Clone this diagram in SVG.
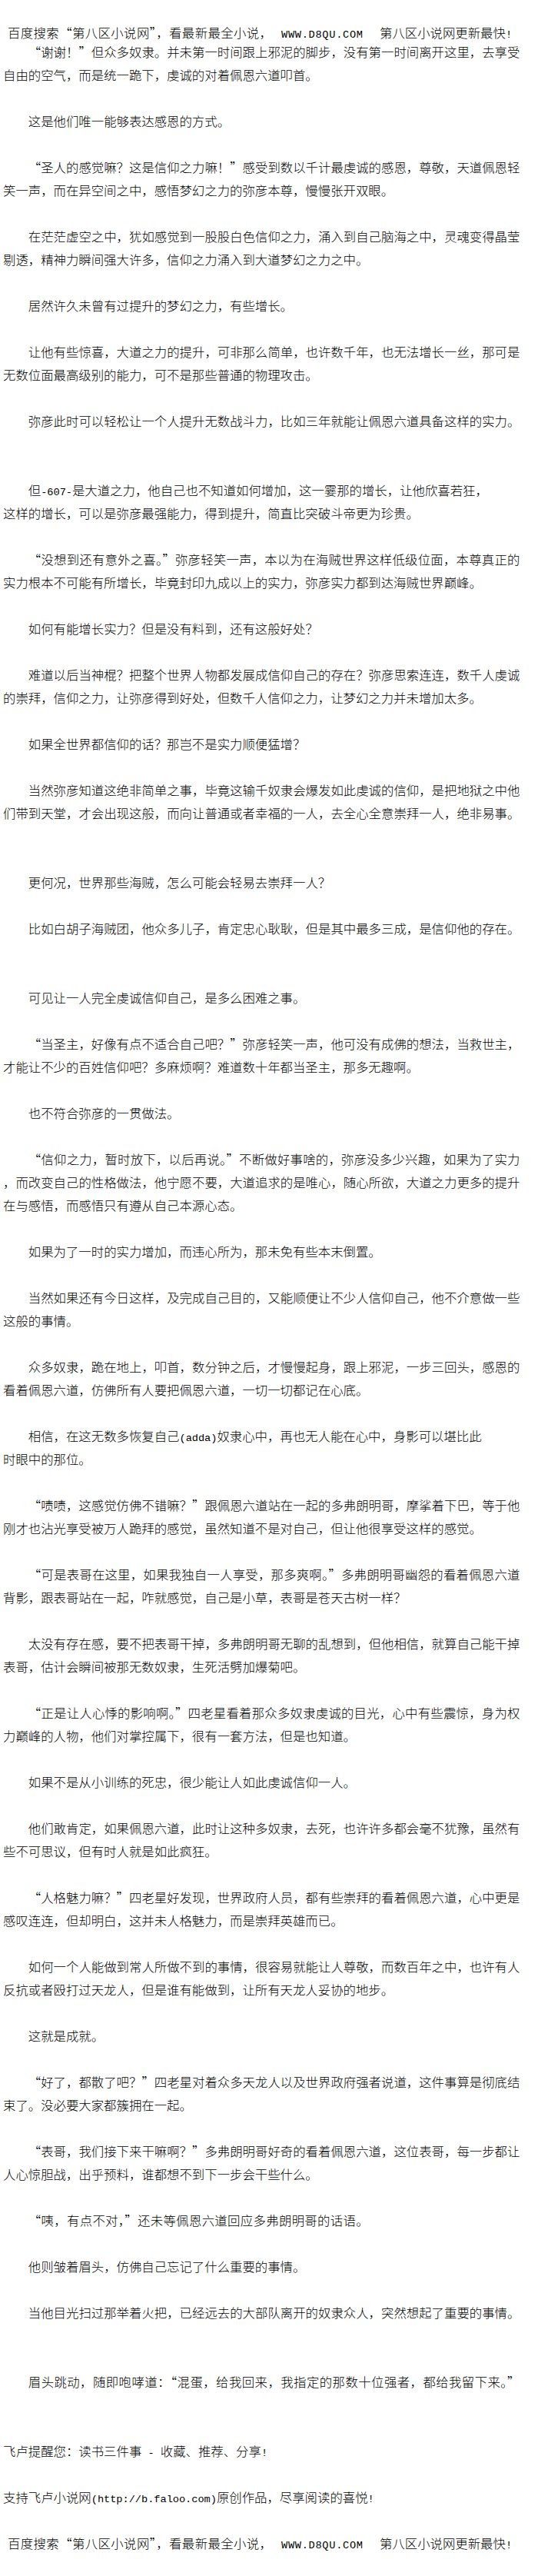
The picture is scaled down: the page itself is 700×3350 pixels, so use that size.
<svg xmlns="http://www.w3.org/2000/svg" width="700" height="3350" viewBox="0 0 700 3350">
<style>
text{font-family:"Noto Sans CJK SC","Noto Sans CJK JP",sans-serif;font-size:16.4px;font-weight:300;fill:#000}
.m{font-family:"Liberation Mono","DejaVu Sans Mono",monospace;font-size:13.6px}
</style>
<rect x="0" y="0" width="700" height="3350" fill="#fff"/>
<g id="header">
<text x="10" y="49" textLength="344" lengthAdjust="spacing">百度搜索“第八区小说网”，看最新最全小说，</text>
<text class="m" x="366" y="49" textLength="106" lengthAdjust="spacing">WWW.D8QU.COM</text>
<text x="494" y="49">第八区小说网更新最快<tspan class="m">!</tspan></text>
</g>
<g id="body">
<text x="36.8" y="74" textLength="639.6" lengthAdjust="spacing">“谢谢！”但众多奴隶。并未第一时间跟上邪泥的脚步，没有第一时间离开这里，去享受</text>
<text x="4" y="104">自由的空气，而是统一跪下，虔诚的对着佩恩六道叩首。</text>
<text x="36.8" y="164">这是他们唯一能够表达感恩的方式。</text>
<text x="36.8" y="224" textLength="639.6" lengthAdjust="spacing">“圣人的感觉嘛？这是信仰之力嘛！”感受到数以千计最虔诚的感恩，尊敬，天道佩恩轻</text>
<text x="4" y="254">笑一声，而在异空间之中，感悟梦幻之力的弥彦本尊，慢慢张开双眼。</text>
<text x="36.8" y="314" textLength="639.6" lengthAdjust="spacing">在茫茫虚空之中，犹如感觉到一股股白色信仰之力，涌入到自己脑海之中，灵魂变得晶莹</text>
<text x="4" y="344">剔透，精神力瞬间强大许多，信仰之力涌入到大道梦幻之力之中。</text>
<text x="36.8" y="404">居然许久未曾有过提升的梦幻之力，有些增长。</text>
<text x="36.8" y="464" textLength="639.6" lengthAdjust="spacing">让他有些惊喜，大道之力的提升，可非那么简单，也许数千年，也无法增长一丝，那可是</text>
<text x="4" y="494">无数位面最高级别的能力，可不是那些普通的物理攻击。</text>
<text x="36.8" y="554" textLength="639.6" lengthAdjust="spacing">弥彦此时可以轻松让一个人提升无数战斗力，比如三年就能让佩恩六道具备这样的实力。</text>
<text x="36.8" y="644">但<tspan class="m">-607-</tspan>是大道之力，他自己也不知道如何增加，这一霎那的增长，让他欣喜若狂，</text>
<text x="4" y="674">这样的增长，可以是弥彦最强能力，得到提升，简直比突破斗帝更为珍贵。</text>
<text x="36.8" y="734" textLength="639.6" lengthAdjust="spacing">“没想到还有意外之喜。”弥彦轻笑一声，本以为在海贼世界这样低级位面，本尊真正的</text>
<text x="4" y="764">实力根本不可能有所增长，毕竟封印九成以上的实力，弥彦实力都到达海贼世界巅峰。</text>
<text x="36.8" y="824">如何有能增长实力？但是没有料到，还有这般好处？</text>
<text x="36.8" y="884" textLength="639.6" lengthAdjust="spacing">难道以后当神棍？把整个世界人物都发展成信仰自己的存在？弥彦思索连连，数千人虔诚</text>
<text x="4" y="914">的崇拜，信仰之力，让弥彦得到好处，但数千人信仰之力，让梦幻之力并未增加太多。</text>
<text x="36.8" y="974">如果全世界都信仰的话？那岂不是实力顺便猛增？</text>
<text x="36.8" y="1034" textLength="639.6" lengthAdjust="spacing">当然弥彦知道这绝非简单之事，毕竟这输千奴隶会爆发如此虔诚的信仰，是把地狱之中他</text>
<text x="4" y="1064" textLength="672.4" lengthAdjust="spacing">们带到天堂，才会出现这般，而向让普通或者幸福的一人，去全心全意崇拜一人，绝非易事。</text>
<text x="36.8" y="1154">更何况，世界那些海贼，怎么可能会轻易去崇拜一人？</text>
<text x="36.8" y="1214" textLength="639.6" lengthAdjust="spacing">比如白胡子海贼团，他众多儿子，肯定忠心耿耿，但是其中最多三成，是信仰他的存在。</text>
<text x="36.8" y="1304">可见让一人完全虔诚信仰自己，是多么困难之事。</text>
<text x="36.8" y="1364" textLength="639.6" lengthAdjust="spacing">“当圣主，好像有点不适合自己吧？”弥彦轻笑一声，他可没有成佛的想法，当救世主，</text>
<text x="4" y="1394">才能让不少的百姓信仰吧？多麻烦啊？难道数十年都当圣主，那多无趣啊。</text>
<text x="36.8" y="1454">也不符合弥彦的一贯做法。</text>
<text x="36.8" y="1514" textLength="639.6" lengthAdjust="spacing">“信仰之力，暂时放下，以后再说。”不断做好事啥的，弥彦没多少兴趣，如果为了实力</text>
<text x="4" y="1544" textLength="672.4" lengthAdjust="spacing">，而改变自己的性格做法，他宁愿不要，大道追求的是唯心，随心所欲，大道之力更多的提升</text>
<text x="4" y="1574">在与感悟，而感悟只有遵从自己本源心态。</text>
<text x="36.8" y="1634">如果为了一时的实力增加，而违心所为，那未免有些本末倒置。</text>
<text x="36.8" y="1694" textLength="639.6" lengthAdjust="spacing">当然如果还有今日这样，及完成自己目的，又能顺便让不少人信仰自己，他不介意做一些</text>
<text x="4" y="1724">这般的事情。</text>
<text x="36.8" y="1784" textLength="639.6" lengthAdjust="spacing">众多奴隶，跪在地上，叩首，数分钟之后，才慢慢起身，跟上邪泥，一步三回头，感恩的</text>
<text x="4" y="1814">看着佩恩六道，仿佛所有人要把佩恩六道，一切一切都记在心底。</text>
<text x="36.8" y="1874">相信，在这无数多恢复自己<tspan class="m">(adda)</tspan>奴隶心中，再也无人能在心中，身影可以堪比此</text>
<text x="4" y="1904">时眼中的那位。</text>
<text x="36.8" y="1964" textLength="639.6" lengthAdjust="spacing">“啧啧，这感觉仿佛不错嘛？”跟佩恩六道站在一起的多弗朗明哥，摩挲着下巴，等于他</text>
<text x="4" y="1994">刚才也沾光享受被万人跪拜的感觉，虽然知道不是对自己，但让他很享受这样的感觉。</text>
<text x="36.8" y="2054" textLength="639.6" lengthAdjust="spacing">“可是表哥在这里，如果我独自一人享受，那多爽啊。”多弗朗明哥幽怨的看着佩恩六道</text>
<text x="4" y="2084">背影，跟表哥站在一起，咋就感觉，自己是小草，表哥是苍天古树一样？</text>
<text x="36.8" y="2144" textLength="639.6" lengthAdjust="spacing">太没有存在感，要不把表哥干掉，多弗朗明哥无聊的乱想到，但他相信，就算自己能干掉</text>
<text x="4" y="2174">表哥，估计会瞬间被那无数奴隶，生死活劈加爆菊吧。</text>
<text x="36.8" y="2234" textLength="639.6" lengthAdjust="spacing">“正是让人心悸的影响啊。”四老星看着那众多奴隶虔诚的目光，心中有些震惊，身为权</text>
<text x="4" y="2264">力巅峰的人物，他们对掌控属下，很有一套方法，但是也知道。</text>
<text x="36.8" y="2324">如果不是从小训练的死忠，很少能让人如此虔诚信仰一人。</text>
<text x="36.8" y="2384" textLength="639.6" lengthAdjust="spacing">他们敢肯定，如果佩恩六道，此时让这种多奴隶，去死，也许许多都会毫不犹豫，虽然有</text>
<text x="4" y="2414">些不可思议，但有时人就是如此疯狂。</text>
<text x="36.8" y="2474" textLength="639.6" lengthAdjust="spacing">“人格魅力嘛？”四老星好发现，世界政府人员，都有些崇拜的看着佩恩六道，心中更是</text>
<text x="4" y="2504">感叹连连，但却明白，这并未人格魅力，而是崇拜英雄而已。</text>
<text x="36.8" y="2564" textLength="639.6" lengthAdjust="spacing">如何一个人能做到常人所做不到的事情，很容易就能让人尊敬，而数百年之中，也许有人</text>
<text x="4" y="2594">反抗或者殴打过天龙人，但是谁有能做到，让所有天龙人妥协的地步。</text>
<text x="36.8" y="2654">这就是成就。</text>
<text x="36.8" y="2714" textLength="639.6" lengthAdjust="spacing">“好了，都散了吧？”四老星对着众多天龙人以及世界政府强者说道，这件事算是彻底结</text>
<text x="4" y="2744">束了。没必要大家都簇拥在一起。</text>
<text x="36.8" y="2804" textLength="639.6" lengthAdjust="spacing">“表哥，我们接下来干嘛啊？”多弗朗明哥好奇的看着佩恩六道，这位表哥，每一步都让</text>
<text x="4" y="2834">人心惊胆战，出乎预料，谁都想不到下一步会干些什么。</text>
<text x="36.8" y="2894" textLength="442.8" lengthAdjust="spacing">“咦，有点不对，”还未等佩恩六道回应多弗朗明哥的话语。</text>
<text x="36.8" y="2954">他则皱着眉头，仿佛自己忘记了什么重要的事情。</text>
<text x="36.8" y="3014" textLength="639.6" lengthAdjust="spacing">当他目光扫过那举着火把，已经远去的大部队离开的奴隶众人，突然想起了重要的事情。</text>
<text x="36.8" y="3104" textLength="639.6" lengthAdjust="spacing">眉头跳动，随即咆哮道：“混蛋，给我回来，我指定的那数十位强者，都给我留下来。”</text>
</g>
<g id="footer">
<text x="4" y="3194">飞卢提醒您：读书三件事<tspan class="m"> - </tspan>收藏、推荐、分享<tspan class="m">!</tspan></text>
<text x="4" y="3254">支持飞卢小说网<tspan class="m">(http://b.faloo.com)</tspan>原创作品，尽享阅读的喜悦<tspan class="m">!</tspan></text>
<text x="10" y="3314" textLength="344" lengthAdjust="spacing">百度搜索“第八区小说网”，看最新最全小说，</text>
<text class="m" x="366" y="3314" textLength="106" lengthAdjust="spacing">WWW.D8QU.COM</text>
<text x="494" y="3314">第八区小说网更新最快<tspan class="m">!</tspan></text>
</g>
</svg>
